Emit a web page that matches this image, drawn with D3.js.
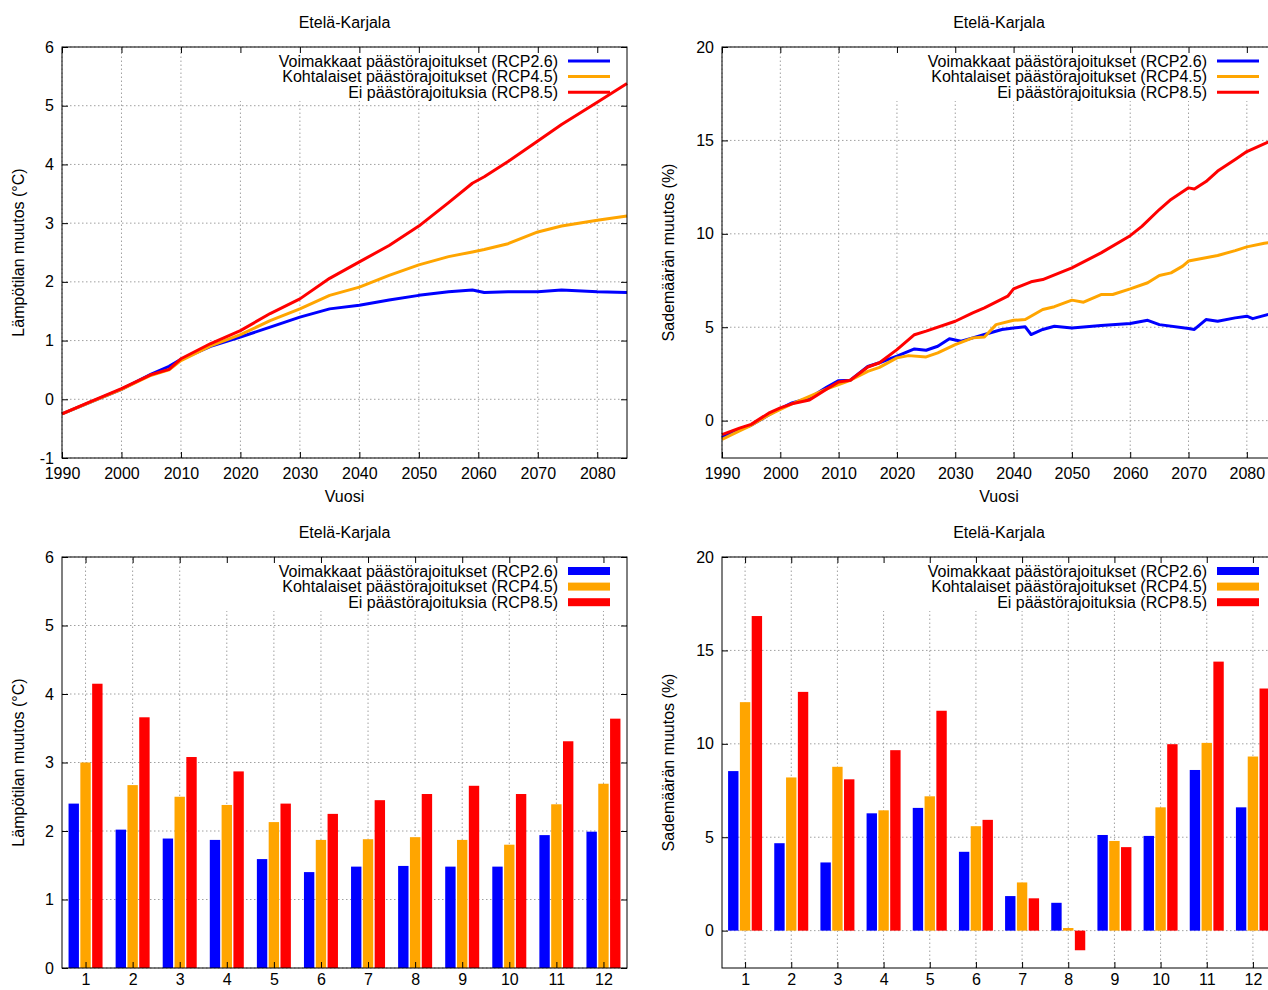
<!DOCTYPE html>
<html>
<head>
<meta charset="utf-8">
<script src="https://cdn.jsdelivr.net/npm/d3@7"></script>
<style>
body { margin: 0; background: #fff; }
svg { display: block; font-family: "Liberation Sans", Arial, sans-serif; }
</style>
</head>
<body>
<div id="container"></div>
<script>
// legend / series names
var seriesNames = ["Voimakkaat päästörajoitukset (RCP2.6)", "Kohtalaiset päästörajoitukset (RCP4.5)", "Ei päästörajoituksia (RCP8.5)"];
var seriesColors = ["#0000ff", "#ffa500", "#ff0000"];
var regionTitle = "Etelä-Karjala";

// temperature change, running mean
var tempYears = [1990,1995,2000,2005,2008,2010,2015,2020,2025,2030,2035,2040,2045,2050,2055,2059,2061,2065,2070,2074,2080,2085];
var temp26 = [-0.25,-0.04,0.17,0.43,0.56,0.68,0.90,1.06,1.23,1.40,1.54,1.60,1.69,1.77,1.83,1.86,1.82,1.83,1.83,1.86,1.83,1.82];
var temp45 = [-0.25,-0.04,0.17,0.41,0.50,0.66,0.91,1.10,1.34,1.54,1.77,1.91,2.11,2.29,2.43,2.51,2.55,2.65,2.85,2.95,3.05,3.12];
var temp85 = [-0.25,-0.03,0.18,0.42,0.51,0.69,0.95,1.17,1.46,1.71,2.06,2.34,2.62,2.95,3.35,3.68,3.79,4.05,4.40,4.68,5.06,5.38];

// precipitation change
var precYears26 = [1990,1993,1995,1998,2000,2002,2005,2008,2010,2012,2015,2017,2020,2023,2025,2027,2029,2031,2033,2035,2038,2040,2042,2043,2045,2047,2050,2055,2060,2063,2065,2070,2071,2073,2075,2078,2080,2081,2085];
var prec26 = [-0.9,-0.45,-0.25,0.3,0.65,0.95,1.21,1.8,2.14,2.16,2.9,3.1,3.45,3.84,3.77,3.98,4.38,4.25,4.43,4.61,4.88,4.96,5.02,4.61,4.88,5.05,4.96,5.09,5.2,5.37,5.14,4.93,4.88,5.41,5.32,5.5,5.59,5.46,5.8];
var precYears45 = [1990,1993,1995,1998,2000,2002,2005,2008,2010,2012,2015,2017,2020,2022,2025,2027,2030,2033,2035,2037,2040,2042,2045,2047,2050,2052,2055,2057,2060,2063,2065,2067,2069,2070,2075,2078,2080,2083,2085];
var prec45 = [-1.0,-0.55,-0.25,0.3,0.6,0.9,1.3,1.7,1.93,2.16,2.64,2.85,3.36,3.48,3.41,3.63,4.07,4.43,4.48,5.14,5.37,5.41,5.95,6.1,6.45,6.34,6.75,6.75,7.05,7.38,7.77,7.91,8.27,8.54,8.84,9.1,9.3,9.5,9.55];
var precYears85 = [1990,1993,1995,1998,2000,2002,2005,2008,2010,2012,2015,2017,2020,2023,2025,2030,2033,2035,2039,2040,2043,2045,2050,2055,2060,2062,2065,2067,2070,2071,2073,2075,2078,2080,2085];
var prec85 = [-0.75,-0.4,-0.2,0.4,0.68,0.9,1.1,1.7,2.07,2.16,2.87,3.1,3.8,4.6,4.79,5.32,5.77,6.04,6.66,7.05,7.43,7.55,8.18,8.98,9.9,10.4,11.3,11.84,12.46,12.4,12.8,13.36,13.98,14.4,15.1];

// monthly changes
var months = [1,2,3,4,5,6,7,8,9,10,11,12];
var mTemp26 = [2.40,2.02,1.89,1.87,1.59,1.40,1.48,1.49,1.48,1.48,1.94,1.99];
var mTemp45 = [3.00,2.67,2.50,2.38,2.13,1.87,1.88,1.91,1.87,1.80,2.39,2.69];
var mTemp85 = [4.15,3.66,3.08,2.87,2.40,2.25,2.45,2.54,2.66,2.54,3.31,3.64];
var mPrec26 = [8.54,4.68,3.65,6.28,6.57,4.22,1.85,1.49,5.12,5.07,8.60,6.60];
var mPrec45 = [12.23,8.20,8.77,6.44,7.19,5.59,2.58,0.14,4.80,6.60,10.05,9.32];
var mPrec85 = [16.84,12.78,8.10,9.66,11.77,5.93,1.73,-1.05,4.47,9.98,14.40,12.96];

var yearTicks = [1990,2000,2010,2020,2030,2040,2050,2060,2070,2080];
var tempTicks = [-1,0,1,2,3,4,5,6];
var precTicks = [0,5,10,15,20];
var mTempTicks = [0,1,2,3,4,5,6];

var W = 1268, H = 990;
var svg = d3.select("#container").append("svg")
	.attr("width", W)
	.attr("height", H);

var fmt = function (d) { return String(d); }; // plain hyphen minus like gnuplot

function panel(o) { // draw frame, grid, ticks, labels and legend
	var g = svg.append("g");
	var x = o.x, y = o.y;
	var x0 = x.range()[0], x1 = x.range()[1], y0 = y.range()[0], y1 = y.range()[1];

	var grid = g.append("g").attr("stroke", "#a0a0a0").attr("stroke-width", 1).attr("stroke-dasharray", "1.5,2.5");
	o.xTicks.forEach(function (t) {
		grid.append("line").attr("x1", x(t)).attr("x2", x(t)).attr("y1", y0).attr("y2", y1);
	});
	o.yTicks.forEach(function (t) {
		grid.append("line").attr("x1", x0).attr("x2", x1).attr("y1", y(t)).attr("y2", y(t));
	});

	// legend background hides grid under it
	g.append("rect")
		.attr("x", x1 - 415).attr("y", y1 + 1)
		.attr("width", 414).attr("height", 53)
		.attr("fill", "#fff");

	var marks = g.append("g");

	var ax = g.append("g");
	ax.append("g").attr("transform", "translate(0," + y0 + ")")
		.call(d3.axisBottom(x).tickValues(o.xTicks).tickSize(-6).tickPadding(o.xPad).tickFormat(fmt));
	ax.append("g").attr("transform", "translate(0," + y1 + ")")
		.call(d3.axisTop(x).tickValues(o.xTicks).tickSize(-6).tickFormat(""));
	ax.append("g").attr("transform", "translate(" + x0 + ",0)")
		.call(d3.axisLeft(y).tickValues(o.yTicks).tickSize(-6).tickPadding(8).tickFormat(fmt));
	ax.append("g").attr("transform", "translate(" + x1 + ",0)")
		.call(d3.axisRight(y).tickValues(o.yTicks).tickSize(-6).tickFormat(""));
	ax.selectAll(".domain").remove();
	ax.selectAll("text").attr("font-size", 16).attr("fill", "#000").attr("font-family", "Liberation Sans, Arial, sans-serif");
	ax.selectAll(".tick line").attr("stroke", "#000");

	g.append("rect")
		.attr("x", x0).attr("y", y1).attr("width", x1 - x0).attr("height", y0 - y1)
		.attr("fill", "none").attr("stroke", "#000").attr("stroke-width", 1);

	g.append("text")
		.attr("x", (x0 + x1) / 2).attr("y", y1 - 19)
		.attr("text-anchor", "middle").attr("font-size", 16)
		.text(regionTitle);
	g.append("text")
		.attr("transform", "translate(" + o.ylabX + "," + ((y0 + y1) / 2) + ") rotate(-90)")
		.attr("text-anchor", "middle").attr("font-size", 16)
		.text(o.ylabel);
	if (o.xlabel) {
		g.append("text")
			.attr("x", (x0 + x1) / 2).attr("y", y0 + 44)
			.attr("text-anchor", "middle").attr("font-size", 16)
			.text(o.xlabel);
	}

	var leg = g.append("g");
	seriesNames.forEach(function (name, i) {
		var cy = y1 + 14 + i * 15.6;
		leg.append("text")
			.attr("x", x1 - 69).attr("y", cy + 5.5)
			.attr("text-anchor", "end").attr("font-size", 16)
			.text(name);
		if (o.bars) {
			leg.append("rect")
				.attr("x", x1 - 59).attr("y", cy - 4).attr("width", 42).attr("height", 8)
				.attr("fill", seriesColors[i]);
		} else {
			leg.append("line")
				.attr("x1", x1 - 59).attr("x2", x1 - 17).attr("y1", cy).attr("y2", cy)
				.attr("stroke", seriesColors[i]).attr("stroke-width", 3);
		}
	});
	return marks;
}

function linePanel(left, width, top, domainY, ticksY, ylabel, ylabX, yearsList, valuesList) {
	var x = d3.scaleLinear().domain([1990, 2085]).range([left, left + width]);
	var y = d3.scaleLinear().domain(domainY).range([top + 411, top]);
	var marks = panel({ x: x, y: y, xTicks: yearTicks, yTicks: ticksY, xPad: 10,
		ylabel: ylabel, ylabX: ylabX, xlabel: "Vuosi", bars: false });
	var line = d3.line().x(function (d) { return x(d[0]); }).y(function (d) { return y(d[1]); });
	valuesList.forEach(function (vals, i) {
		var pts = vals.map(function (v, j) { return [yearsList[i][j], v]; });
		marks.append("path").datum(pts)
			.attr("d", line)
			.attr("fill", "none")
			.attr("stroke", seriesColors[i])
			.attr("stroke-width", 3)
			.attr("stroke-linejoin", "round");
	});
}

function barPanel(left, width, top, domainY, ticksY, ylabel, ylabX, valuesList) {
	var x = d3.scaleLinear().domain([0.5, 12.5]).range([left, left + width]);
	var y = d3.scaleLinear().domain(domainY).range([top + 411, top]);
	var marks = panel({ x: x, y: y, xTicks: months, yTicks: ticksY, xPad: 6,
		ylabel: ylabel, ylabX: ylabX, xlabel: null, bars: true });
	var inner = d3.scaleBand().domain([0, 1, 2]).range([-17, 17]).paddingInner(0.12);
	valuesList.forEach(function (vals, i) {
		marks.selectAll(null)
			.data(vals)
			.enter().append("rect")
			.attr("x", function (d, j) { return x(months[j]) + inner(i); })
			.attr("y", function (d) { return y(Math.max(0, d)); })
			.attr("width", inner.bandwidth())
			.attr("height", function (d) { return Math.abs(y(d) - y(0)); })
			.attr("fill", seriesColors[i]);
	});
}

linePanel(62, 565, 47, [-1, 6], tempTicks, "Lämpötilan muutos (°C)", 24,
	[tempYears, tempYears, tempYears], [temp26, temp45, temp85]);
linePanel(722, 554, 47, [-2, 20], precTicks, "Sademäärän muutos (%)", 674,
	[precYears26, precYears45, precYears85], [prec26, prec45, prec85]);
barPanel(62, 565, 557, [0, 6], mTempTicks, "Lämpötilan muutos (°C)", 24,
	[mTemp26, mTemp45, mTemp85]);
barPanel(722, 554, 557, [-2, 20], precTicks, "Sademäärän muutos (%)", 674,
	[mPrec26, mPrec45, mPrec85]);
</script>
</body>
</html>
